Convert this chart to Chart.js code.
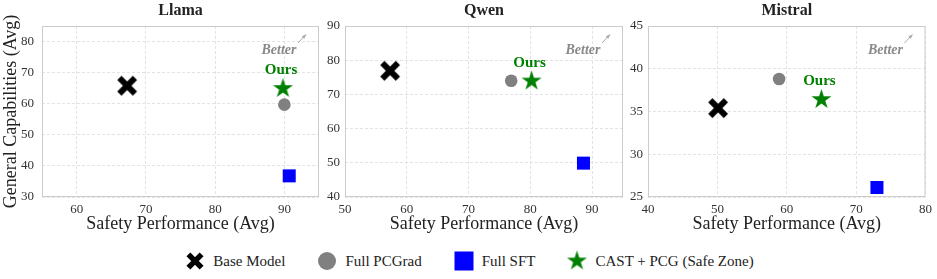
<!DOCTYPE html>
<html>
<head>
<meta charset="utf-8">
<script src="https://cdn.jsdelivr.net/npm/chart.js@4"></script>
<style>
  body { margin: 0; background: #fff; }
  #wrap { position: relative; width: 937px; height: 279px; overflow: hidden; font-family: "Liberation Serif", serif; }
  .panel { position: absolute; top: 0; }
  #legend { position: absolute; left: 0; top: 249px; width: 937px; height: 24px; display: flex; justify-content: center; align-items: center; gap: 30px; font-size: 15px; color: #222; }
  .item { display: flex; align-items: center; }
  .item canvas { margin-right: 6px; }
</style>
</head>
<body>
<div id="wrap">
  <div class="panel" style="left:0px"><canvas id="c0" width="322" height="235"></canvas></div>
  <div class="panel" style="left:322px"><canvas id="c1" width="304" height="235"></canvas></div>
  <div class="panel" style="left:626px"><canvas id="c2" width="311" height="235"></canvas></div>
  <div id="legend"></div>
</div>
<script>
const models = ["Llama", "Qwen", "Mistral"];
const methods = ["Base Model", "Full PCGrad", "Full SFT", "CAST + PCG (Safe Zone)"];

// safety (x) and general capabilities (y), one value per method
const llamaSafety = [67.3, 90.0, 90.7, 89.8];
const llamaGeneral = [65.8, 59.7, 36.8, 64.9];
const qwenSafety = [57.3, 76.9, 88.6, 80.2];
const qwenGeneral = [76.9, 74.0, 49.9, 73.9];
const mistralSafety = [50.1, 58.9, 73.0, 65.0];
const mistralGeneral = [35.4, 38.8, 26.1, 36.4];

const llamaXRange = [55, 95], llamaYRange = [30, 85];
const qwenXRange = [50, 95], qwenYRange = [40, 90];
const mistralXRange = [40, 80], mistralYRange = [25, 45];

const llamaXTicks = [60, 70, 80, 90];
const llamaYTicks = [30, 40, 50, 60, 70, 80];
const qwenXTicks = [50, 60, 70, 80, 90];
const qwenYTicks = [40, 50, 60, 70, 80, 90];
const mistralXTicks = [40, 50, 60, 70, 80];
const mistralYTicks = [25, 30, 35, 40, 45];

const FONT = "'Liberation Serif', 'Times New Roman', serif";
const colors = ["#000000", "#808080", "#0000ff", "#008000"];

function makeX(size, lw, inset) {
    const c = document.createElement("canvas");
    c.width = size;
    c.height = size;
    const g = c.getContext("2d");
    g.strokeStyle = "#000";
    g.lineWidth = lw;
    g.lineCap = "butt";
    g.beginPath();
    g.moveTo(inset, inset);
    g.lineTo(size - inset, size - inset);
    g.moveTo(size - inset, inset);
    g.lineTo(inset, size - inset);
    g.stroke();
    return c;
}

function makeStar(R, color) {
    const size = Math.ceil(2 * R + 2);
    const c = document.createElement("canvas");
    c.width = size;
    c.height = size;
    const g = c.getContext("2d");
    const cx = size / 2, cy = size / 2;
    g.fillStyle = color;
    g.beginPath();
    for (let i = 0; i < 10; i++) {
        const a = -Math.PI / 2 + i * Math.PI / 5;
        const r = i % 2 === 0 ? R : R * 0.382;
        const px = cx + r * Math.cos(a), py = cy + r * Math.sin(a);
        if (i === 0) g.moveTo(px, py); else g.lineTo(px, py);
    }
    g.closePath();
    g.fill();
    return c;
}

const xImg = makeX(22, 6, 3.2);
const starImg = makeStar(10.5, colors[3]);
const pointStyles = [xImg, "circle", "rect", starImg];
const pointRadii = [10, 6.3, 9.2, 10];

const decor = {
    id: "decor",
    beforeDatasetsDraw(chart) {
        const a = chart.chartArea;
        const ctx = chart.ctx;
        ctx.save();
        ctx.strokeStyle = "#cccccc";
        ctx.lineWidth = 1;
        ctx.strokeRect(a.left + 0.5, a.top + 0.5, a.right - a.left - 1, a.bottom - a.top - 1);
        ctx.restore();
    },
    afterDatasetsDraw(chart) {
        const a = chart.chartArea;
        const ctx = chart.ctx;
        ctx.save();
        // "Better" hint with small arrow
        ctx.fillStyle = "#8a8a8a";
        ctx.font = "italic bold 14px " + FONT;
        ctx.textAlign = "center";
        ctx.textBaseline = "middle";
        ctx.fillText("Better", a.right - 40, a.top + 24);
        const x0 = a.right - 21, y0 = a.top + 17, x1 = a.right - 13.5, y1 = a.top + 9;
        ctx.strokeStyle = "#aaaaaa";
        ctx.fillStyle = "#aaaaaa";
        ctx.lineWidth = 1;
        ctx.beginPath();
        ctx.moveTo(x0, y0);
        ctx.lineTo(x1, y1);
        ctx.stroke();
        const ang = Math.atan2(y1 - y0, x1 - x0);
        ctx.beginPath();
        ctx.moveTo(x1 + 1, y1 - 1);
        ctx.lineTo(x1 - 4 * Math.cos(ang - 0.45), y1 - 4 * Math.sin(ang - 0.45));
        ctx.lineTo(x1 - 4 * Math.cos(ang + 0.45), y1 - 4 * Math.sin(ang + 0.45));
        ctx.closePath();
        ctx.fill();
        // "Ours" label above the star
        const p = chart.getDatasetMeta(3).data[0];
        ctx.fillStyle = colors[3];
        ctx.font = "bold 15px " + FONT;
        ctx.fillText("Ours", p.x - 2, p.y - 18);
        ctx.restore();
    }
};

function createPanel(id, name, xs, ys, xRange, yRange, xTicks, yTicks, yWidth, yPad, rightPad, showYTitle) {
    const datasets = methods.map((m, i) => ({
        label: m,
        data: [{ x: xs[i], y: ys[i] }],
        pointStyle: pointStyles[i],
        pointRadius: pointRadii[i],
        pointHoverRadius: pointRadii[i],
        backgroundColor: colors[i],
        borderColor: colors[i],
        borderWidth: 0,
    }));
    new Chart(document.getElementById(id), {
        type: "scatter",
        data: { datasets: datasets },
        options: {
            responsive: false,
            animation: false,
            events: [],
            layout: { autoPadding: false, padding: { left: 0, right: rightPad, top: 0, bottom: 0 } },
            scales: {
                x: {
                    type: "linear",
                    min: xRange[0],
                    max: xRange[1],
                    afterBuildTicks: (s) => { s.ticks = xTicks.map((v) => ({ value: v })); },
                    afterFit: (s) => { s.height = 38; },
                    grid: { color: "#dcdcdc", lineWidth: 0.8, drawTicks: false },
                    border: { display: false, dash: [3, 2] },
                    ticks: { padding: 5, color: "#333", font: { family: FONT, size: 13 } },
                    title: {
                        display: true,
                        text: "Safety Performance (Avg)",
                        color: "#222",
                        font: { family: FONT, size: 18 },
                        padding: { top: 0, bottom: 0 },
                    },
                },
                y: {
                    type: "linear",
                    min: yRange[0],
                    max: yRange[1],
                    afterBuildTicks: (s) => { s.ticks = yTicks.map((v) => ({ value: v })); },
                    afterFit: (s) => { s.width = yWidth; },
                    grid: { color: "#dcdcdc", lineWidth: 0.8, drawTicks: false },
                    border: { display: false, dash: [3, 2] },
                    ticks: { padding: yPad, color: "#333", font: { family: FONT, size: 13 } },
                    title: {
                        display: showYTitle,
                        text: "General Capabilities (Avg)",
                        color: "#222",
                        font: { family: FONT, size: 18 },
                        padding: { top: 0, bottom: 0 },
                    },
                },
            },
            plugins: {
                legend: { display: false },
                tooltip: { enabled: false },
                title: {
                    display: true,
                    text: name,
                    fullSize: false,
                    color: "#222",
                    font: { family: FONT, size: 16, weight: "bold" },
                    padding: { top: 1, bottom: 5.8 },
                },
            },
        },
        plugins: [decor],
    });
}

createPanel("c0", models[0], llamaSafety, llamaGeneral, llamaXRange, llamaYRange, llamaXTicks, llamaYTicks, 42, 8, 3, true);
createPanel("c1", models[1], qwenSafety, qwenGeneral, qwenXRange, qwenYRange, qwenXTicks, qwenYTicks, 23, 5, 3, false);
createPanel("c2", models[2], mistralSafety, mistralGeneral, mistralXRange, mistralYRange, mistralXTicks, mistralYTicks, 22, 5, 11, false);

// shared legend
const legendIcons = [
    (g) => { g.drawImage(makeX(20, 5.5, 3.4), 2, 2); },
    (g) => { g.fillStyle = colors[1]; g.beginPath(); g.arc(12, 12, 9, 0, Math.PI * 2); g.fill(); },
    (g) => { g.fillStyle = colors[2]; g.fillRect(2.5, 2.5, 19, 19); },
    (g) => { const s = makeStar(10.5, colors[3]); g.drawImage(s, 12 - s.width / 2, 12 - s.height / 2); },
];
const legend = document.getElementById("legend");
methods.forEach((m, i) => {
    const item = document.createElement("div");
    item.className = "item";
    const c = document.createElement("canvas");
    c.width = 24;
    c.height = 24;
    legendIcons[i](c.getContext("2d"));
    const span = document.createElement("span");
    span.textContent = m;
    item.appendChild(c);
    item.appendChild(span);
    legend.appendChild(item);
});
</script>
</body>
</html>
